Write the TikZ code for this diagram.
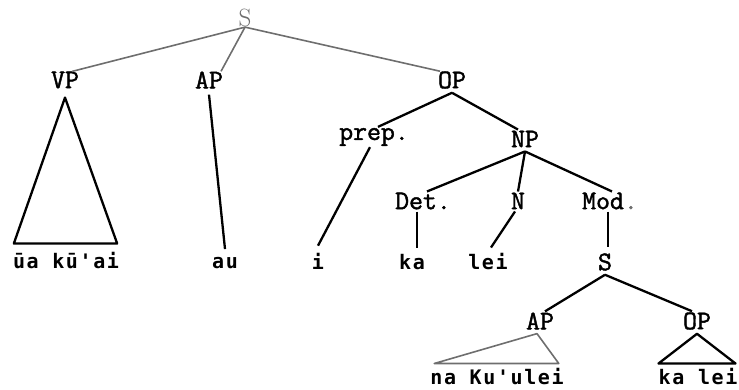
\documentclass[tikz,border=0pt]{standalone}
\usepackage{fontspec}
\newfontfamily\labfont{Latin Modern Mono}[FakeBold=1.6]
\newfontfamily\leaffont{DejaVu Sans Mono}[LetterSpace=8]
\definecolor{sgray}{HTML}{6E6E6E}
\tikzset{
  lab/.style={font=\labfont\fontsize{27}{29}\selectfont, inner sep=1pt},
  leaf/.style={font=\leaffont\bfseries\fontsize{20}{22}\selectfont, inner sep=1pt},
  edge/.style={line width=2.3pt, line join=round},
  gedge/.style={line width=1.6pt, draw=sgray, line join=round}
}
\begin{document}
\begin{tikzpicture}[x=1pt,y=-1pt]
\useasboundingbox (0,0) rectangle (739,390);
% labels
\node[font=\fontsize{25}{26}\selectfont, text=sgray, inner sep=1pt] (S) at (245,18) {S};
\node[lab] (VP) at (65,80) {VP};
\node[lab] (AP) at (209,80) {AP};
\node[lab] (OP) at (452,80) {OP};
\node[lab] (prep) at (374,137) {prep.};
\node[lab] (NP) at (525,139) {NP};
\node[lab] (Det) at (423,201) {Det.};
\node[lab] (N) at (518,201) {N};
\node[lab] (Mod) at (610,201) {Mod\textcolor{sgray}{.}};
\node[lab] (S2) at (605,262) {S};
\node[lab] (AP2) at (540,321) {AP};
\node[lab] (OP2) at (697,321) {OP};
% leaves
\node[leaf] (w1) at (66,261) {ūa kū'ai};
\node[leaf] (au) at (225,263) {au};
\node[leaf] (i) at (318,261) {i};
\node[leaf] (ka) at (412,262) {ka};
\node[leaf] (lei) at (488,262) {lei};
\node[leaf] (w2) at (497,377) {na Ku'ulei};
\node[leaf] (w3) at (698,377) {ka lei};
% top gray edges
\draw[gedge] ([yshift=1pt]S.south) -- ([xshift=7pt,yshift=-1pt]VP.north);
\draw[gedge] ([yshift=1pt]S.south) -- ([xshift=12pt,yshift=-1pt]AP.north);
\draw[gedge] ([yshift=1pt]S.south) -- ([xshift=-12pt,yshift=-1pt]OP.north);
% VP triangle
\draw[edge] ([yshift=-8pt]VP.south) -- ([xshift=2pt,yshift=8pt]w1.north west)
  -- ([xshift=-3pt,yshift=8pt]w1.north east) -- cycle;
% AP - au
\draw[edge] ([yshift=-5pt]AP.south) -- ([yshift=7pt]au.north);
% OP
\draw[edge] ([yshift=-3pt]OP.south) -- ([xshift=4pt]prep.north);
\draw[edge] ([yshift=-3pt]OP.south) -- ([xshift=-7pt]NP.north);
% prep - i
\draw[edge] ([xshift=-4pt]prep.south) -- ([yshift=6pt]i.north);
% NP
\draw[edge] ([yshift=-3pt]NP.south) -- ([xshift=4pt]Det.north);
\draw[edge] ([yshift=-3pt]NP.south) -- (N.north);
\draw[edge] ([yshift=-3pt]NP.south) -- ([xshift=2pt]Mod.north);
% Det, N, Mod
\draw[edge] ([xshift=-6pt,yshift=-1pt]Det.south) -- ([xshift=5pt,yshift=5pt]ka.north);
\draw[edge] ([xshift=-3pt,yshift=-1pt]N.south) -- ([xshift=3pt,yshift=5pt]lei.north);
\draw[edge] ([xshift=-2pt,yshift=-1pt]Mod.south) -- ([xshift=3pt,yshift=5pt]S2.north);
% S2
\draw[edge] ([yshift=-3pt]S2.south) -- ([xshift=5pt]AP2.north);
\draw[edge] ([yshift=-3pt]S2.south) -- ([xshift=-5pt]OP2.north);
% AP2 triangle (gray)
\draw[gedge] ([xshift=-3pt,yshift=-3pt]AP2.south) -- ([xshift=5pt,yshift=4pt]w2.north west)
  -- ([xshift=-6pt,yshift=4pt]w2.north east) -- cycle;
% OP2 triangle
\draw[edge] ([yshift=-3pt]OP2.south) -- ([xshift=1pt,yshift=4pt]w3.north west)
  -- ([xshift=-3pt,yshift=4pt]w3.north east) -- cycle;
\end{tikzpicture}
\end{document}
